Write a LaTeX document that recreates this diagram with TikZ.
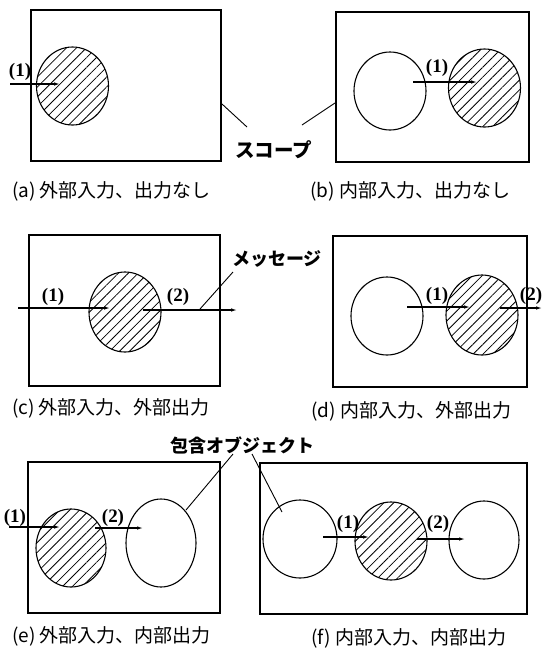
\documentclass[tikz,border=0pt]{standalone}
\usepackage{fontspec}
\setmainfont{Liberation Serif}
\newfontfamily\cjk{Noto Sans CJK JP}
\usetikzlibrary{arrows.meta,shapes.geometric,patterns.meta}

\tikzset{
  scopebox/.style={draw,line width=1.2pt,inner sep=0pt},
  obj/.style={ellipse,draw,line width=1.1pt,minimum width=72pt,minimum height=78pt,inner sep=0pt},
  active/.style={obj,pattern={Lines[angle=45,distance=7pt,line width=.8pt]}},
  msg/.style={line width=1.1pt,-{Latex[length=6pt,width=3.5pt]}},
  num/.style={font=\fontsize{19}{20}\selectfont\bfseries,inner sep=0pt},
  captext/.style={font=\fontsize{19}{20}\selectfont\cjk,anchor=west,inner sep=0pt},
  tag/.style={font=\fontsize{18}{19}\selectfont\cjk\bfseries,inner sep=0pt},
  lead/.style={line width=.9pt}
}

\begin{document}
\begin{tikzpicture}[x=1pt,y=-1pt]
\useasboundingbox (0,0) rectangle (543,649);
% (a)
\node[scopebox,minimum width=190pt,minimum height=151pt] (sa) at (126,85.5) {};
\node[active] (a1) at (72.5,86) {};
\coordinate (ain) at (10,84); \coordinate (aout) at (60,84);
\draw[msg] (ain) -- (aout);
\node[num] (na1) at (20,72) {(1)};
\node[captext] (capa) at (12,191) {(a) 外部入力、出力なし};
% (b)
\node[scopebox,minimum width=193pt,minimum height=150pt] (sb) at (432.5,87) {};
\node[obj] (b1) at (390,91) {};
\node[active] (b2) at (484.5,88) {};
\coordinate (bin) at (413,82); \coordinate (bout) at (477,82);
\draw[msg] (bin) -- (bout);
\node[num] (nb1) at (437,68) {(1)};
\node[captext] (capb) at (310,191) {(b) 内部入力、出力なし};
% scope label
\node[tag,font=\fontsize{19.5}{20}\selectfont\cjk\bfseries] (scope) at (273.5,150) {スコープ};
\coordinate (sa1) at (222,104); \coordinate (sa2) at (247,127);
\coordinate (sb1) at (335,103); \coordinate (sb2) at (302,125);
\draw[lead] (sa1) -- (sa2);
\draw[lead] (sb1) -- (sb2);
% (c)
\node[scopebox,minimum width=191pt,minimum height=151pt] (sc) at (124.5,310.5) {};
\node[active,minimum height=80pt] (c1) at (125,312) {};
\coordinate (cin1) at (18,308); \coordinate (cout1) at (110,308);
\coordinate (cin2) at (143,310); \coordinate (cout2) at (237,310);
\draw[msg] (cin1) -- (cout1);
\draw[msg] (cin2) -- (cout2);
\node[num] (nc1) at (53,297) {(1)};
\node[num] (nc2) at (178,297) {(2)};
\node[captext] (capc) at (12,408) {(c) 外部入力、外部出力};
% message label
\node[tag] (message) at (277,259) {メッセージ};
\coordinate (m1) at (200,309); \coordinate (m2) at (233,272);
\draw[lead] (m1) -- (m2);
% (d)
\node[scopebox,minimum width=194pt,minimum height=151pt] (sd) at (430,311.5) {};
\node[obj] (d1) at (387,316) {};
\node[active,minimum height=80pt] (d2) at (482,315) {};
\coordinate (din1) at (407,307); \coordinate (dout1) at (470,307);
\coordinate (din2) at (500,308); \coordinate (dout2) at (542,308);
\draw[msg] (din1) -- (dout1);
\draw[msg] (din2) -- (dout2);
\node[num] (nd1) at (437,296) {(1)};
\node[num] (nd2) at (531,296) {(2)};
\node[captext] (capd) at (311,411) {(d) 内部入力、外部出力};
% (e)
\node[scopebox,minimum width=192pt,minimum height=151pt] (se) at (124,537.5) {};
\node[active,minimum width=70pt] (e1) at (71,548) {};
\node[obj,minimum width=70pt,minimum height=88pt] (e2) at (161,543) {};
\coordinate (ein1) at (9,527); \coordinate (eout1) at (60,527);
\coordinate (ein2) at (95,528); \coordinate (eout2) at (143,528);
\draw[msg] (ein1) -- (eout1);
\draw[msg] (ein2) -- (eout2);
\node[num] (ne1) at (15,518) {(1)};
\node[num] (ne2) at (113,518) {(2)};
\node[captext] (cape) at (12,636) {(e) 外部入力、内部出力};
% (f)
\node[scopebox,minimum width=267pt,minimum height=151pt] (sf) at (393.5,538.5) {};
\node[obj,minimum width=74pt] (f1) at (300,539) {};
\node[active] (f2) at (391,541) {};
\node[obj,minimum width=70pt] (f3) at (484,540) {};
\coordinate (fin1) at (323,537); \coordinate (fout1) at (369,537);
\coordinate (fin2) at (417,539); \coordinate (fout2) at (465,539);
\draw[msg] (fin1) -- (fout1);
\draw[msg] (fin2) -- (fout2);
\node[num] (nf1) at (348,524) {(1)};
\node[num] (nf2) at (438,524) {(2)};
\node[captext] (capf) at (311,638) {(f) 内部入力、内部出力};
% contained object label
\node[tag] (inner) at (242,445) {包含オブジェクト};
\coordinate (o1) at (186,510); \coordinate (o2) at (233,454);
\coordinate (o3) at (252,454); \coordinate (o4) at (282,512);
\draw[lead] (o1) -- (o2);
\draw[lead] (o3) -- (o4);
\end{tikzpicture}
\end{document}
